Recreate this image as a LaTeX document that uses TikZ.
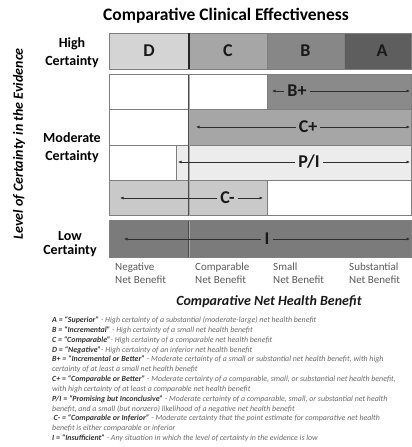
\documentclass[tikz,border=0pt]{standalone}
\usepackage{fontspec}
\setmainfont{Carlito}
\usetikzlibrary{arrows.meta}

\definecolor{cD}{HTML}{D4D4D4}
\definecolor{cC}{HTML}{A6A6A6}
\definecolor{cB}{HTML}{878787}
\definecolor{cA}{HTML}{5E5E5E}
\definecolor{cBplus}{HTML}{8A8A8A}
\definecolor{cCplus}{HTML}{A6A6A6}
\definecolor{cPI}{HTML}{ECECEC}
\definecolor{cCminus}{HTML}{C9C9C9}
\definecolor{cI}{HTML}{7B7B7B}
\definecolor{frame}{HTML}{7F7F7F}
\definecolor{arrowc}{HTML}{2E2E2E}
\definecolor{axisgray}{HTML}{5A5A5A}
\definecolor{leggray}{HTML}{6A6A6A}
\definecolor{legdark}{HTML}{333333}

\newcommand{\legbold}[1]{{\bfseries\color{legdark}#1}}

\begin{document}
\begin{tikzpicture}[x=1pt,y=-1pt,
  cell/.style={draw=frame, line width=0.8pt},
  lvl/.style={font=\fontsize{14}{18}\selectfont\bfseries, align=center, text=black},
  grade/.style={font=\fontsize{18}{20}\selectfont\bfseries, inner sep=3pt, text=black!90},
  arr/.style={draw=arrowc, line width=0.6pt, -{Latex[length=3.5pt,width=3pt]}},
  axislbl/.style={font=\fontsize{11}{13.5}\selectfont, text=axisgray, align=left, anchor=north west, inner sep=0pt},
  leg/.style={font=\fontsize{7.9}{9.8}\selectfont\itshape, text=leggray, anchor=base west, inner sep=0pt},
  divider/.style={draw=black!70, double=black!35, double distance=0.9pt, line width=0.7pt}
]
\useasboundingbox (0,0) rectangle (412,447);

% title and axis titles
\node[font=\fontsize{17.5}{20}\selectfont\bfseries] (title) at (226,16) {Comparative Clinical Effectiveness};
\node[font=\fontsize{14}{16}\selectfont\bfseries\itshape, rotate=90] (ylab) at (19,144) {Level of Certainty in the Evidence};
\node[font=\fontsize{14}{16}\selectfont\bfseries\itshape, text=black!90] (xlab) at (269,302) {Comparative Net Health Benefit};

% row labels
\node[lvl] (high) at (72,53) {High\\Certainty};
\node[lvl] (mod) at (72,148) {Moderate\\Certainty};
\node[lvl, font=\fontsize{14}{14.5}\selectfont\bfseries] (low) at (70,244) {Low\\Certainty};

% high certainty row
\filldraw[cell, fill=cD] (109.5,33) rectangle (189,69);
\filldraw[cell, fill=cC] (189,33) rectangle (267,69);
\filldraw[cell, fill=cB] (267,33) rectangle (344,69);
\filldraw[cell, fill=cA] (344,33) rectangle (411.5,69);
\draw[line width=1.6pt, black!85] (189,33) -- (189,69);
\node[grade] (gD) at (149,51) {D};
\node[grade] (gC) at (228,51) {C};
\node[grade] (gB) at (305.5,51) {B};
\node[grade] (gA) at (382,51) {A};

% moderate certainty rows
\filldraw[cell, fill=white] (109.5,74.5) rectangle (189,109.5);
\filldraw[cell, fill=white] (189,74.5) rectangle (267,109.5);
\filldraw[cell, fill=cBplus] (267,74.5) rectangle (411.5,109.5);

\filldraw[cell, fill=white] (109.5,109.5) rectangle (189,145);
\filldraw[cell, fill=cCplus] (189,109.5) rectangle (411.5,145);

\filldraw[cell, fill=white] (109.5,145) rectangle (176,180);
\filldraw[cell, fill=cPI] (176,145) rectangle (411.5,180);

\filldraw[cell, fill=cCminus] (109.5,180) rectangle (267,215.5);
\filldraw[cell, fill=white] (267,180) rectangle (411.5,215.5);

% low certainty row
\filldraw[cell, fill=cI] (109.5,220.5) rectangle (411.5,257);

% comparable / negative divider
\draw[divider] (189.3,74.5) -- (189.3,215.5);
\draw[divider] (189.3,220.5) -- (189.3,257);

% range arrows
\node[grade] (bp) at (297,91) {B+};
\coordinate (bpL) at (272,91);
\coordinate (bpR) at (410,91);
\draw[arr] (bp.west) -- (bpL);
\draw[arr] (bp.east) -- (bpR);

\node[grade] (cp) at (308,127) {C+};
\coordinate (cpL) at (196,127);
\coordinate (cpR) at (410,127);
\draw[arr] (cp.west) -- (cpL);
\draw[arr] (cp.east) -- (cpR);

\node[grade] (pi) at (309,162) {P/I};
\coordinate (piL) at (178,162);
\coordinate (piR) at (410,162);
\draw[arr] (pi.west) -- (piL);
\draw[arr] (pi.east) -- (piR);

\node[grade] (cm) at (227.5,198) {C-};
\coordinate (cmL) at (120,198);
\coordinate (cmR) at (263,198);
\draw[arr] (cm.west) -- (cmL);
\draw[arr] (cm.east) -- (cmR);

\node[grade] (ins) at (267,239) {I};
\coordinate (insL) at (124,239);
\coordinate (insR) at (410,239);
\draw[arr] (ins.west) -- (insL);
\draw[arr] (ins.east) -- (insR);

% benefit categories
\node[axislbl] (neg) at (115,262.5) {Negative\\Net Benefit};
\node[axislbl] (cmp) at (195,262.5) {Comparable\\Net Benefit};
\node[axislbl] (sml) at (273,262.5) {Small\\Net Benefit};
\node[axislbl] (sub) at (349,262.5) {Substantial\\Net Benefit};

% legend
\node[leg] (l1) at (52,322.5) {\legbold{A = “Superior”} - High certainty of a substantial (moderate-large) net health benefit};
\node[leg] (l2) at (52,332.3) {\legbold{B = “Incremental”} - High certainty of a small net health benefit};
\node[leg] (l3) at (52,342.2) {\legbold{C = “Comparable”}- High certainty of a comparable net health benefit};
\node[leg] (l4) at (52,352.0) {\legbold{D = “Negative”}- High certainty of an inferior net health benefit};
\node[leg] (l5) at (52,361.8) {\legbold{B+ = “Incremental or Better”} - Moderate certainty of a small or substantial net health benefit, with high};
\node[leg] (l6) at (52,371.7) {certainty of at least a small net health benefit};
\node[leg] (l7) at (52,381.5) {\legbold{C+ = “Comparable or Better”} - Moderate certainty of a comparable, small, or substantial net health benefit,};
\node[leg] (l8) at (52,391.3) {with high certainty of at least a comparable net health benefit};
\node[leg] (l9) at (52,401.1) {\legbold{P/I = “Promising but Inconclusive”} - Moderate certainty of a comparable, small, or substantial net health};
\node[leg] (l10) at (52,411.0) {benefit, and a small (but nonzero) likelihood of a negative net health benefit};
\node[leg] (l11) at (53.5,420.8) {\legbold{C- = “Comparable or Inferior”} - Moderate certainty that the point estimate for comparative net health};
\node[leg] (l12) at (52,430.6) {benefit is either comparable or inferior};
\node[leg] (l13) at (52,440.5) {\legbold{I = “Insufficient”} - Any situation in which the level of certainty in the evidence is low};
\end{tikzpicture}
\end{document}
